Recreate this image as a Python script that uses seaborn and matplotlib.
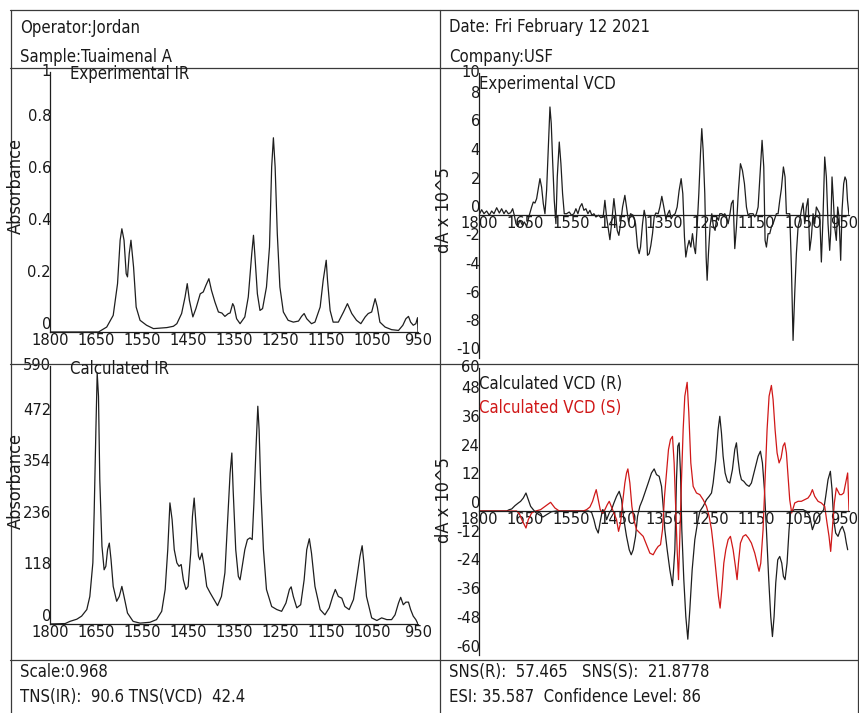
import numpy as np
import pandas as pd
import matplotlib
matplotlib.use("Agg")
import matplotlib.pyplot as plt
import matplotlib.transforms as mtransforms
import seaborn as sns
from matplotlib.lines import Line2D

# ---------------- data ----------------
x_tick_labels = ["1800", "1650", "1550", "1450", "1350", "1250", "1150", "1050", "950"]

ir_exp_yticks = [0, 0.2, 0.4, 0.6, 0.8, 1.0]
ir_exp_ylabels = ["0", "0.2", "0.4", "0.6", "0.8", "1"]
ir_calc_yticks = [0, 118, 236, 354, 472, 590]
vcd_exp_yticks = [-10, -8, -6, -4, -2, 0, 2, 4, 6, 8, 10]
vcd_calc_yticks = [-60, -48, -36, -24, -12, 0, 12, 24, 36, 48, 60]

header_left = ["Operator:Jordan", "Sample:Tuaimenal A"]
header_right = ["Date: Fri February 12 2021", "Company:USF"]
footer_left = ["Scale:0.968", "TNS(IR):  90.6 TNS(VCD)  42.4"]
footer_right = ["SNS(R):  57.465   SNS(S):  21.8778", "ESI: 35.587  Confidence Level: 86"]

ir_exp_wn = [1800, 1688, 1669, 1654, 1644, 1638, 1634, 1629, 1624, 1621, 1617, 1613, 1607, 1601, 1592,
             1577, 1561, 1530, 1515, 1507, 1496, 1488, 1483, 1478, 1470, 1463, 1453, 1446, 1440, 1433,
             1427, 1419, 1411, 1403, 1396, 1388, 1384, 1378, 1375, 1369, 1361, 1350, 1342, 1334, 1330,
             1327, 1321, 1315, 1309, 1300, 1293, 1288, 1284, 1280, 1275, 1269, 1261, 1250, 1238, 1226,
             1219, 1213, 1207, 1196, 1188, 1176, 1169, 1162, 1159, 1153, 1146, 1134, 1122, 1113, 1103,
             1092, 1082, 1072, 1065, 1057, 1049, 1044, 1038, 1026, 1011, 995, 985, 978, 972, 967,
             961, 955, 951, 950]
ir_exp_abs = [0, 0, 0.019, 0.064, 0.186, 0.353, 0.397, 0.353, 0.224, 0.212, 0.301, 0.353, 0.25, 0.096, 0.045,
              0.026, 0.013, 0.017, 0.022, 0.032, 0.071, 0.135, 0.186, 0.122, 0.058, 0.090, 0.147, 0.154, 0.179, 0.205,
              0.160, 0.115, 0.077, 0.073, 0.060, 0.071, 0.073, 0.109, 0.099, 0.051, 0.032, 0.058, 0.135, 0.301, 0.372,
              0.301, 0.147, 0.083, 0.090, 0.173, 0.327, 0.635, 0.747, 0.635, 0.378, 0.173, 0.077, 0.045, 0.038, 0.042,
              0.060, 0.071, 0.051, 0.032, 0.038, 0.096, 0.199, 0.276, 0.199, 0.083, 0.038, 0.038, 0.077, 0.109, 0.071,
              0.045, 0.032, 0.058, 0.071, 0.077, 0.128, 0.096, 0.038, 0.019, 0.009, 0.006, 0.026, 0.051, 0.060, 0.038,
              0.026, 0.032, 0.055, 0]

ir_calc_wn = [1800, 1765, 1754, 1738, 1727, 1715, 1708, 1701, 1698, 1694, 1691, 1688, 1685, 1680, 1675,
              1671, 1667, 1663, 1659, 1654, 1646, 1640, 1634, 1629, 1621, 1608, 1592, 1569, 1554, 1542,
              1534, 1528, 1523, 1518, 1513, 1507, 1502, 1497, 1492, 1486, 1481, 1475, 1471, 1467, 1463,
              1457, 1454, 1449, 1444, 1438, 1430, 1423, 1413, 1404, 1396, 1390, 1384, 1380, 1377, 1371,
              1365, 1361, 1356, 1350, 1344, 1338, 1333, 1329, 1324, 1320, 1317, 1313, 1307, 1300, 1288,
              1276, 1265, 1255, 1247, 1243, 1238, 1230, 1221, 1213, 1207, 1201, 1196, 1188, 1176, 1165,
              1155, 1147, 1141, 1134, 1126, 1119, 1109, 1099, 1092, 1084, 1079, 1075, 1069, 1057, 1045,
              1034, 1022, 1011, 1003, 995, 990, 984, 978, 972, 967, 961, 955, 950]
ir_calc_abs = [0, 1, 6, 11, 18, 33, 63, 140, 254, 444, 574, 521, 330, 178, 124,
               132, 170, 185, 147, 86, 52, 63, 86, 63, 25, 6, 2, 4, 10, 29,
               79, 170, 277, 239, 170, 140, 132, 136, 101, 79, 86, 162, 246, 288, 231,
               155, 147, 162, 132, 86, 71, 59, 42, 63, 117, 231, 345, 391, 307, 170,
               109, 101, 132, 170, 193, 197, 193, 277, 406, 498, 444, 307, 170, 79, 40,
               33, 29, 48, 79, 85, 63, 37, 44, 101, 170, 195, 162, 86, 33, 21,
               37, 63, 79, 63, 59, 40, 33, 56, 101, 155, 179, 140, 63, 14, 8,
               14, 10, 10, 21, 48, 61, 44, 50, 50, 33, 18, 10, 0]

vcd_exp_wn = [1800, 1793.9, 1788.5, 1782.4, 1776.3, 1770.9, 1765.6, 1759.4, 1753.3, 1748.0,
              1742.6, 1738.0, 1732.7, 1727.3, 1722.7, 1718.9, 1715.1, 1711.2, 1705.9, 1699.8,
              1695.9, 1690.6, 1684.5, 1679.1, 1675.3, 1671.5, 1667.6, 1663.8, 1660.0, 1656.2,
              1652.3, 1648.5, 1644.7, 1640.9, 1637.0, 1634.0, 1630.9, 1627.1, 1623.3, 1620.2,
              1615.6, 1611.8, 1608.0, 1604.1, 1598.8, 1592.7, 1587.3, 1582.0, 1577.4, 1572.8,
              1568.2, 1563.6, 1559.0, 1554.4, 1549.8, 1545.2, 1540.6, 1536.0, 1531.4, 1525.3,
              1520.0, 1514.6, 1510.8, 1506.9, 1503.1, 1499.3, 1495.5, 1490.1, 1486.3, 1482.5,
              1478.7, 1474.8, 1470.2, 1464.9, 1461.1, 1456.5, 1451.9, 1445.8, 1440.4, 1435.8,
              1432.0, 1428.9, 1424.3, 1420.5, 1416.7, 1412.9, 1409.0, 1405.2, 1401.4, 1397.6,
              1393.7, 1388.4, 1384.5, 1380.0, 1375.4, 1370.8, 1366.2, 1362.4, 1358.5, 1354.0,
              1349.4, 1344.8, 1340.2, 1335.6, 1331.8, 1328.0, 1324.9, 1321.1, 1317.3, 1313.4,
              1309.6, 1305.8, 1302.7, 1298.9, 1295.0, 1291.2, 1288.2, 1285.1, 1281.3, 1278.2,
              1275.9, 1272.9, 1269.0, 1265.2, 1261.4, 1257.6, 1253.7, 1249.9, 1246.8, 1242.2,
              1239.2, 1235.4, 1231.5, 1227.7, 1223.9, 1220.1, 1216.2, 1212.4, 1208.6, 1204.0,
              1199.4, 1194.8, 1190.2, 1185.6, 1181.8, 1178.0, 1174.2, 1170.3, 1166.5, 1162.7,
              1158.8, 1153.5, 1149.7, 1145.8, 1142.8, 1139.7, 1135.9, 1132.1, 1128.3, 1124.4,
              1120.6, 1116.8, 1112.9, 1109.1, 1105.3, 1100.7, 1096.9, 1093.8, 1090.0, 1086.2,
              1082.3, 1078.5, 1074.7, 1070.9, 1067.0, 1063.2, 1059.4, 1055.6, 1051.7, 1047.9,
              1044.1, 1040.3, 1036.4, 1032.6, 1028.8, 1025.0, 1021.1, 1017.3, 1013.5, 1009.7,
              1005.8, 1002.0, 998.2, 994.4, 992.1, 989.0, 985.9, 982.9, 979.1, 976.0,
              972.9, 969.1, 966.0, 962.2, 959.2, 956.1, 953.5, 950.0]
vcd_exp_val = [0, 0.37, 0.09, 0.28, -0.02, 0.28, 0.09, 0.51, 0.14, 0.44,
               0.09, 0.33, 0.09, 0.16, 0.44, -0.02, -0.61, -0.80, -0.37, -0.73,
               -0.49, -0.80, -0.02, 0.56, 0.91, 0.84, 1.15, 1.85, 2.55, 1.96,
               0.80, 0.09, 1.73, 4.54, 7.58, 6.41, 3.84, 1.03, -0.61, 2.67,
               5.12, 3.60, 1.50, 0.09, 0.09, 0.21, -0.02, 0.09, 0.44, 0.09,
               0.56, 0.80, 0.33, 0.44, 0.09, 0.33, -0.02, 0.09, -0.14, -0.02,
               -0.19, -0.09, 1.03, -0.14, -0.96, -1.73, -0.61, 1.15, 0.09, -1.08,
               -1.43, -0.61, 0.56, 1.38, 0.56, -0.49, 0.09, -0.02, -0.61, -2.25,
               -2.71, -2.25, -0.61, 0.33, -0.26, -2.83, -2.71, -2.13, -1.31, -0.14,
               0.14, 0.09, 0.56, 1.31, 0.56, -0.26, 0.09, 0.33, -0.26, -0.02,
               0.09, 0.56, 1.73, 2.55, 1.50, -1.54, -2.95, -2.25, -1.78, -2.25,
               -1.31, -2.25, -2.71, -0.84, 1.50, 4.30, 6.06, 4.54, 1.50, -2.95,
               -4.58, -2.71, -0.73, 0.09, -0.84, -1.08, -0.14, -0.37, 0.09, 0.09,
               -0.02, 0.09, -0.14, -0.61, -0.02, 0.80, 1.03, -2.36, -0.84, 1.73,
               3.60, 3.13, 2.20, 0.56, -0.02, 0.09, 0.09, 0.09, -0.14, 0.09,
               0.56, 3.25, 5.24, 3.37, -1.78, -2.25, -1.31, -1.31, -0.84, -0.61,
               -0.26, 0.09, 0.09, 1.03, 1.85, 3.37, 2.67, 0.09, 0.09, 0.09,
               -3.65, -8.80, -5.52, -2.71, -0.84, -0.37, 0.33, 0.84, -0.61, 0.56,
               1.15, -2.48, -1.54, 0.09, -0.61, 0.56, 0.33, 0.09, -3.30, -0.14,
               4.07, 2.67, -0.61, -2.48, -1.31, 2.67, 1.03, -0.84, -1.78, 0.56,
               -0.14, -3.18, 0.33, 2.20, 2.67, 2.43, 1.03, 0]

vcd_r_wn = [1800, 1736.5, 1730.4, 1725.0, 1717.4, 1709.7, 1704.4, 1698.2, 1692.1, 1686.8,
            1681.4, 1675.3, 1669.9, 1662.3, 1653.1, 1644.7, 1633.2, 1621.7, 1549.0, 1541.4,
            1536.0, 1531.4, 1526.1, 1520.7, 1516.1, 1510.8, 1506.9, 1500.8, 1495.5, 1490.1,
            1484.0, 1477.9, 1472.5, 1467.2, 1461.1, 1454.9, 1450.3, 1445.8, 1440.4, 1435.8,
            1430.5, 1424.3, 1419.0, 1411.3, 1403.7, 1397.6, 1392.2, 1386.1, 1380.7, 1376.9,
            1373.1, 1367.7, 1361.6, 1355.5, 1350.1, 1346.3, 1343.3, 1340.2, 1337.1, 1334.1,
            1329.5, 1324.9, 1320.3, 1315.7, 1310.3, 1304.2, 1298.1, 1292.7, 1285.1, 1277.5,
            1271.3, 1265.9, 1262.1, 1256.0, 1250.7, 1246.8, 1243.0, 1239.2, 1234.6, 1229.2,
            1223.9, 1217.8, 1212.4, 1208.6, 1204.8, 1200.9, 1197.1, 1191.7, 1185.6, 1179.5,
            1174.2, 1166.5, 1158.8, 1153.5, 1148.9, 1144.3, 1139.7, 1134.4, 1129.8, 1125.9,
            1122.1, 1118.3, 1113.7, 1109.1, 1104.5, 1100.7, 1096.9, 1092.3, 1087.7, 1083.9,
            1074.7, 1055.6, 1047.9, 1040.3, 1034.1, 1028.8, 1021.1, 1013.5, 1008.1, 1003.5,
            998.2, 992.8, 989.0, 985.2, 980.6, 975.2, 969.9, 965.3, 959.9, 956.1, 953.0]
vcd_r_val = [0, 0, 0.56, 0.84, 2.23, 3.35, 4.05, 5.44, 7.53, 4.74,
             1.95, 0.56, -0.56, -1.53, -2.51, -1.53, -0.28, 0, 0, -0.56,
             -3.63, -7.11, -9.21, -3.63, 0.56, -0.14, -3.63, -0.84, 0.56, 3.35,
             6.14, 8.23, 4.74, -3.63, -10.6, -16.2, -18.3, -16.2, -10.6, -2.23,
             1.95, 4.74, 7.53, 11.7, 15.9, 17.6, 15.2, 14.5, 10.3, 1.95,
             -7.81, -16.2, -24.6, -31.2, -16.2, 13.1, 27.1, 28.5, 15.9, -7.81,
             -28.7, -44.1, -53.6, -41.3, -24.6, -12.0, -5.02, -0.14, 1.95, 4.74,
             6.14, 7.53, 11.7, 21.5, 34.0, 39.6, 32.6, 22.9, 15.9, 12.4,
             11.7, 17.3, 25.7, 28.5, 21.5, 15.9, 13.1, 12.4, 11.0, 10.3,
             11.7, 17.3, 22.9, 25.0, 20.1, 8.93, -7.81, -28.7, -44.1, -52.5,
             -44.1, -30.1, -20.4, -19.0, -21.8, -27.3, -28.7, -21.8, -7.81, -0.14,
             0.56, 0.56, -0.14, -2.23, -7.81, -5.02, -2.23, -0.84, 0.56, 6.14,
             13.1, 16.6, 8.93, -3.63, -9.21, -10.6, -7.81, -6.42, -9.21, -13.4, -16.2]

vcd_s_wn = [1800, 1713.5, 1707.4, 1699.8, 1692.1, 1686.8, 1679.1, 1669.9, 1658.5, 1646.2,
            1635.5, 1625.6, 1615.6, 1560.5, 1552.9, 1545.2, 1539.1, 1534.5, 1530.7, 1526.1,
            1521.5, 1516.1, 1510.8, 1505.4, 1500.8, 1496.3, 1490.1, 1484.0, 1479.4, 1474.8,
            1470.2, 1464.9, 1461.1, 1458.0, 1453.4, 1448.8, 1444.2, 1438.1, 1430.5, 1422.8,
            1415.2, 1407.5, 1399.9, 1393.7, 1388.4, 1383.0, 1378.4, 1373.8, 1369.3, 1364.7,
            1360.1, 1355.5, 1351.7, 1347.8, 1344.8, 1341.7, 1338.6, 1334.8, 1331.0, 1327.2,
            1321.8, 1318.0, 1313.4, 1308.0, 1300.4, 1292.7, 1285.1, 1277.5, 1271.3, 1265.9,
            1260.6, 1254.5, 1249.9, 1246.1, 1242.2, 1237.6, 1233.0, 1227.7, 1222.4, 1216.2,
            1210.9, 1207.1, 1204.0, 1199.4, 1193.3, 1187.2, 1181.0, 1174.2, 1166.5, 1161.1,
            1156.6, 1152.7, 1147.4, 1142.8, 1138.2, 1133.6, 1128.3, 1124.4, 1119.8, 1115.2,
            1110.6, 1106.0, 1101.5, 1097.6, 1093.8, 1090.0, 1086.2, 1081.6, 1074.7, 1067.0,
            1059.4, 1051.7, 1044.1, 1038.7, 1034.1, 1028.8, 1021.1, 1013.5, 1005.8, 1000.5,
            995.9, 992.1, 988.3, 983.7, 979.1, 975.2, 971.4, 966.9, 962.2, 957.7,
            953.1, 950.0]
vcd_s_val = [0, 0, -1.12, -4.32, -7.11, -3.63, -0.84, 0, 0.56, 2.23,
             3.63, 1.26, 0, 0, 0.56, 1.67, 4.05, 6.84, 8.93, 4.74,
             0.56, -0.84, 0.56, 2.65, 4.05, 1.95, -0.84, -3.63, -8.51, -5.02,
             3.35, 11.7, 15.9, 17.6, 11.7, 1.95, -3.63, -7.81, -9.21, -10.6,
             -14.1, -17.6, -18.3, -16.2, -14.8, -14.1, -7.81, 6.14, 15.9, 25.7,
             29.9, 31.2, 20.1, -0.84, -16.2, -28.7, -10.6, 13.1, 34.0, 48.0,
             53.8, 41.0, 20.1, 10.3, 7.53, 6.84, 4.74, 1.95, -2.23, -7.81,
             -16.2, -27.3, -35.7, -40.6, -32.9, -21.8, -16.2, -12.0, -10.6, -16.2,
             -23.2, -28.7, -21.8, -13.4, -10.6, -9.90, -11.3, -13.4, -17.6, -21.8,
             -25.2, -21.8, -7.81, 13.1, 34.0, 48.0, 52.5, 46.6, 34.0, 24.3,
             20.1, 22.2, 27.1, 28.5, 24.3, 14.5, 4.74, -0.84, 3.35, 4.05,
             4.05, 4.74, 5.44, 6.84, 8.93, 6.14, 4.05, 3.35, 1.95, -5.02,
             -10.6, -16.9, -7.81, 3.35, 9.63, 8.23, 6.84, 6.84, 7.53, 11.7,
             15.9, 0]

# ---------------- style ----------------
sns.set_theme(style="white")
plt.rcParams["font.family"] = ["DejaVu Sans"]
plt.rcParams["font.stretch"] = "condensed"
TXT = "#1a1a1a"
LINE = "#1e1e1e"
RED = "#d01818"
TICK_FS = 11.8
HDR_FS = 12

W, H = 859, 713
fig = plt.figure(figsize=(W / 100, H / 100), dpi=100)
fig.patch.set_facecolor("white")


def px_axes(x0, y0, x1, y1):
    return fig.add_axes([x0 / W, 1 - y1 / H, (x1 - x0) / W, (y1 - y0) / H])


def line(xs, ys, color="#3a3a3a", lw=0.9):
    fig.add_artist(Line2D([x / W for x in xs], [1 - y / H for y in ys],
                          transform=fig.transFigure, color=color, lw=lw))


# frame lines
for yy in (9.5, 67.5, 363.5, 659.5):
    line([10, 858], [yy, yy])
for xx in (10.5, 439.5, 857.5):
    line([xx, xx], [9.5, 713])

xt_pos = np.linspace(1800, 950, 9)


def style_axes(ax, yticks, ylabels, center_spine=False, shift_last=0):
    ax.set_facecolor("none")
    ax.set_xlim(1800, 950)
    ax.set_ylim(yticks[0], yticks[-1])
    ax.set_xticks(xt_pos, x_tick_labels)
    ax.set_yticks(yticks, ylabels)
    for s in ("top", "right"):
        ax.spines[s].set_visible(False)
    for s in ("left", "bottom"):
        ax.spines[s].set_color(LINE)
        ax.spines[s].set_linewidth(0.9)
    if center_spine:
        ax.spines["bottom"].set_position(("data", 0))
    ax.tick_params(axis="x", length=0, pad=0.5, labelsize=TICK_FS, labelcolor=TXT)
    ax.tick_params(axis="y", length=3, width=0.8, color=LINE, direction="out",
                   pad=-3.8, labelsize=TICK_FS, labelcolor=TXT)
    labs = ax.get_yticklabels()
    for i, t in enumerate(labs):
        t.set_va("center" if i == len(labs) - 1 else "bottom")
    if shift_last:
        xl = ax.get_xticklabels()[-1]
        xl.set_transform(xl.get_transform() +
                         mtransforms.ScaledTranslation(shift_last / 100, 0, fig.dpi_scale_trans))
    ax.set_xlabel("")
    ax.set_ylabel("")
    ax.grid(False)


# Experimental IR
ax1 = px_axes(50, 72, 418, 332)
sns.lineplot(x=ir_exp_wn, y=ir_exp_abs, ax=ax1, color=LINE, lw=0.9, estimator=None, sort=False)
style_axes(ax1, ir_exp_yticks, ir_exp_ylabels)

# Calculated IR
ax2 = px_axes(50, 366, 418, 624)
sns.lineplot(x=ir_calc_wn, y=ir_calc_abs, ax=ax2, color=LINE, lw=0.9, estimator=None, sort=False)
style_axes(ax2, ir_calc_yticks, [str(v) for v in ir_calc_yticks])

# Experimental VCD
ax3 = px_axes(479, 72.5, 849, 357.5)
sns.lineplot(x=vcd_exp_wn, y=vcd_exp_val, ax=ax3, color=LINE, lw=0.9, estimator=None, sort=False)
style_axes(ax3, vcd_exp_yticks, [str(v) for v in vcd_exp_yticks], center_spine=True, shift_last=-5)

# Calculated VCD
ax4 = px_axes(479, 367.5, 849, 654.5)
sns.lineplot(x=vcd_r_wn, y=vcd_r_val, ax=ax4, color=LINE, lw=0.9, estimator=None, sort=False)
sns.lineplot(x=vcd_s_wn, y=vcd_s_val, ax=ax4, color=RED, lw=0.9, estimator=None, sort=False)
style_axes(ax4, vcd_calc_yticks, [str(v) for v in vcd_calc_yticks], center_spine=True, shift_last=-5)
ax4.set_zorder(3)


def ftext(x, y, s, **kw):
    kw.setdefault("fontsize", HDR_FS)
    kw.setdefault("color", TXT)
    kw.setdefault("va", "center")
    kw.setdefault("ha", "left")
    fig.text(x / W, 1 - y / H, s, **kw)


ftext(20, 28, header_left[0])
ftext(20, 57, header_left[1])
ftext(449, 27, header_right[0])
ftext(449, 57, header_right[1])
ftext(20, 672, footer_left[0])
ftext(20, 697, footer_left[1])
ftext(449, 672, footer_right[0])
ftext(449, 697, footer_right[1])

ftext(70, 74, "Experimental IR")
ftext(70, 369, "Calculated IR")
ftext(479, 84, "Experimental VCD")
ftext(479, 384, "Calculated VCD (R)")
ftext(479, 408, "Calculated VCD (S)", color=RED)

ftext(16, 186, "Absorbance", rotation=90, ha="center", fontsize=13)
ftext(16, 481, "Absorbance", rotation=90, ha="center", fontsize=13)
ftext(444, 210, "dA x 10^5", rotation=90, ha="center", fontsize=13)
ftext(444, 500, "dA x 10^5", rotation=90, ha="center", fontsize=13)

fig.savefig("out.png", dpi=100)
